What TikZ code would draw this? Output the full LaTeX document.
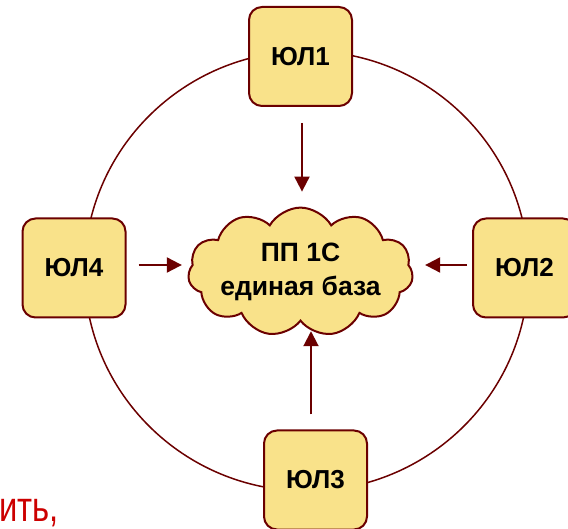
\documentclass[tikz,border=0pt]{standalone}
\usepackage{fontspec}
\setmainfont{Liberation Sans}
\usetikzlibrary{shapes.symbols,arrows.meta}
\definecolor{dred}{HTML}{6B0000}
\definecolor{boxy}{HTML}{F9E28A}
\definecolor{txtred}{HTML}{CC0000}
\begin{document}
\begin{tikzpicture}[x=1pt,y=-1pt,
  ulbox/.style={draw=dred, line width=2pt, fill=boxy, rounded corners=13pt,
    minimum width=103pt, minimum height=99pt, inner sep=0pt,
    font=\fontsize{26}{30}\selectfont\bfseries},
  cloudbox/.style={cloud, cloud puffs=11, cloud puff arc=120, aspect=1.9,
    draw=dred, line width=2pt, fill=boxy, minimum width=225pt, minimum height=120pt,
    inner xsep=-12pt, inner ysep=-6pt, align=center, font=\fontsize{26.5}{34}\selectfont\bfseries},
  arr/.style={draw=dred, line width=2pt, -{Triangle[length=15pt,width=15pt]}},
  ring/.style={draw=dred, line width=1.5pt}]
\useasboundingbox (0,0) rectangle (568,529);
\draw[ring] (306.5,271) ellipse [x radius=222pt, y radius=220pt];
\node[ulbox] (j1) at (300.5,56.5) {ЮЛ1};
\node[ulbox] (j2) at (524.5,268) {ЮЛ2};
\node[ulbox] (j3) at (315.5,480) {ЮЛ3};
\node[ulbox] (j4) at (74,268) {ЮЛ4};
\node[cloudbox] (cl) at (300.5,272) {ПП 1С\\единая база};
\draw[arr, shorten <=16pt, shorten >=15pt] ([xshift=1.5pt]j1.south) -- ([xshift=1.5pt]j1.south |- cl.north);
\draw[arr, shorten <=12pt, shorten >=6pt] ([yshift=3pt]j4.east) -- ([yshift=3pt]j4.east -| cl.west);
\draw[arr, shorten <=5pt, shorten >=12pt] ([yshift=3pt]j2.west) -- ([yshift=3pt]j2.west -| cl.east);
\draw[arr, shorten <=15pt, shorten >=9pt] ([xshift=-4.5pt]j3.north) -- ([xshift=-4.5pt]j3.north |- cl.south);
\node[anchor=base west, inner sep=0pt, text=txtred, xscale=0.78, font=\fontsize{42}{48}\selectfont] (red) at (-1,521) {ить,};
\end{tikzpicture}
\end{document}
